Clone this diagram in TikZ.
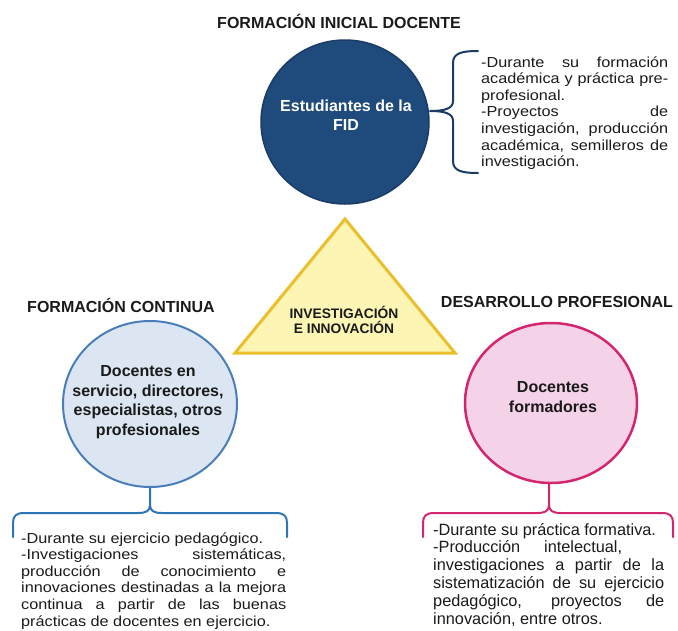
\documentclass[tikz,border=0pt]{standalone}
\usepackage{fontspec}
\setmainfont{Liberation Sans}
\newfontfamily\bodyfont[FakeStretch=1.12]{Liberation Sans}
\usetikzlibrary{shapes.geometric}
\definecolor{navyfill}{HTML}{1F4A7C}
\definecolor{navyline}{HTML}{1A3C66}
\definecolor{bluefill}{HTML}{DCE6F2}
\definecolor{blueline}{HTML}{4A7EBB}
\definecolor{bluebrace}{HTML}{2E75B6}
\definecolor{pinkfill}{HTML}{F4D2E8}
\definecolor{pinkline}{HTML}{D4266F}
\definecolor{yellowfill}{HTML}{FDF5B4}
\definecolor{goldline}{HTML}{EBBE2C}
\definecolor{textblack}{HTML}{1A1A1A}
\begin{document}
\begin{tikzpicture}[x=1pt,y=-1pt,
  title/.style={font=\fontsize{16}{19}\selectfont\bfseries, text=textblack, inner sep=0pt},
  bubble/.style={ellipse, inner sep=0pt},
  bubbletext/.style={font=\fontsize{16}{19.5}\selectfont\bfseries, align=center, inner sep=0pt},
  bodytext/.style={font=\bodyfont\fontsize{14.5}{16.6}\selectfont, text=textblack, align=justify, inner sep=0pt, anchor=base west},
  brace/.style={line width=2pt, line cap=round, line join=round}
]
\useasboundingbox (0,0) rectangle (678,630);

% titles
\node[title] (t1) at (339,21) {FORMACIÓN INICIAL DOCENTE};
\node[title] (t2) at (121,305) {FORMACIÓN CONTINUA};
\node[title] (t3) at (557,302) {DESARROLLO PROFESIONAL};

% triangle
\coordinate (tA) at (345,219);
\coordinate (tB) at (235,353);
\coordinate (tC) at (455,353);
\draw[fill=yellowfill, draw=goldline, line width=3pt] (tA) -- (tB) -- (tC) -- cycle;
\node[font=\fontsize{13.8}{15.5}\selectfont\bfseries, align=center, inner sep=0pt, text=textblack] (tri) at (344,320) {INVESTIGACIÓN\\E INNOVACIÓN};

% top circle
\node[bubble, fill=navyfill, draw=navyline, line width=1.5pt, minimum width=168pt, minimum height=164pt] (fid) at (345,122) {};
\node[bubbletext, text=white] (fidt) at (346,115) {Estudiantes de la\\FID};

% left circle
\node[bubble, fill=bluefill, draw=blueline, line width=2pt, minimum width=174pt, minimum height=166pt] (con) at (150,404) {};
\node[bubbletext, text=textblack] (cont) at (148,402) {Docentes en\\servicio, directores,\\especialistas, otros\\profesionales};

% right circle
\node[bubble, fill=pinkfill, draw=pinkline, line width=2.5pt, minimum width=172pt, minimum height=160pt] (des) at (551,403) {};
\node[bubbletext, text=textblack] (dest) at (553,397) {Docentes\\formadores};

% top brace
\coordinate (b1top) at (478,51);
\coordinate (b1bot) at (478,173);
\coordinate (b1tip) at (430,111);
\draw[brace, draw=navyline] (b1top) .. controls (462,51) and (453,53) .. (453,63) -- (453,101)
  .. controls (453,108) and (446,111) .. (b1tip)
  (b1tip) .. controls (446,111) and (453,114) .. (453,121) -- (453,161)
  .. controls (453,171) and (462,173) .. (b1bot);

% left brace
\coordinate (b2l) at (13,537);
\coordinate (b2r) at (287,537);
\coordinate (b2s) at (con.south);
\draw[brace, draw=bluebrace] (b2l) -- (13,523) .. controls (13,516) and (16,513) .. (24,513) -- (138,513)
  .. controls (146,513) and (150,511) .. (150,505) -- (b2s);
\draw[brace, draw=bluebrace] (b2r) -- (287,523) .. controls (287,516) and (284,513) .. (276,513) -- (162,513)
  .. controls (154,513) and (150,511) .. (150,505);

% right brace
\coordinate (b3l) at (423,537);
\coordinate (b3r) at (673,537);
\coordinate (b3s) at (549,483);
\draw[brace, draw=pinkline] (b3l) -- (423,523) .. controls (423,516) and (426,513) .. (434,513) -- (537,513)
  .. controls (545,513) and (549,511) .. (549,505) -- (b3s);
\draw[brace, draw=pinkline] (b3r) -- (673,523) .. controls (673,516) and (670,513) .. (662,513) -- (561,513)
  .. controls (553,513) and (549,511) .. (549,505);

% texts
\node[bodytext, text width=187pt] (txt1) at (481,67) {-Durante su formación\linebreak académica y práctica pre-\linebreak profesional.\newline -Proyectos de\linebreak investigación, producción\linebreak académica, semilleros de\linebreak investigación.};

\node[bodytext, text width=265pt] (txt2) at (21,543) {-Durante su ejercicio pedagógico.\newline -Investigaciones sistemáticas,\linebreak producción de conocimiento e\linebreak innovaciones destinadas a la mejora\linebreak continua a partir de las buenas\linebreak prácticas de docentes en ejercicio.};

\node[bodytext, font=\fontsize{16.3}{17.8}\selectfont, text width=231pt] (txt3) at (433,535) {-Durante su práctica formativa.\newline -Producción\hspace*{24pt}intelectual,\newline investigaciones a partir de la\linebreak sistematización de su ejercicio\linebreak pedagógico, proyectos de\linebreak innovación, entre otros.};
\end{tikzpicture}
\end{document}
